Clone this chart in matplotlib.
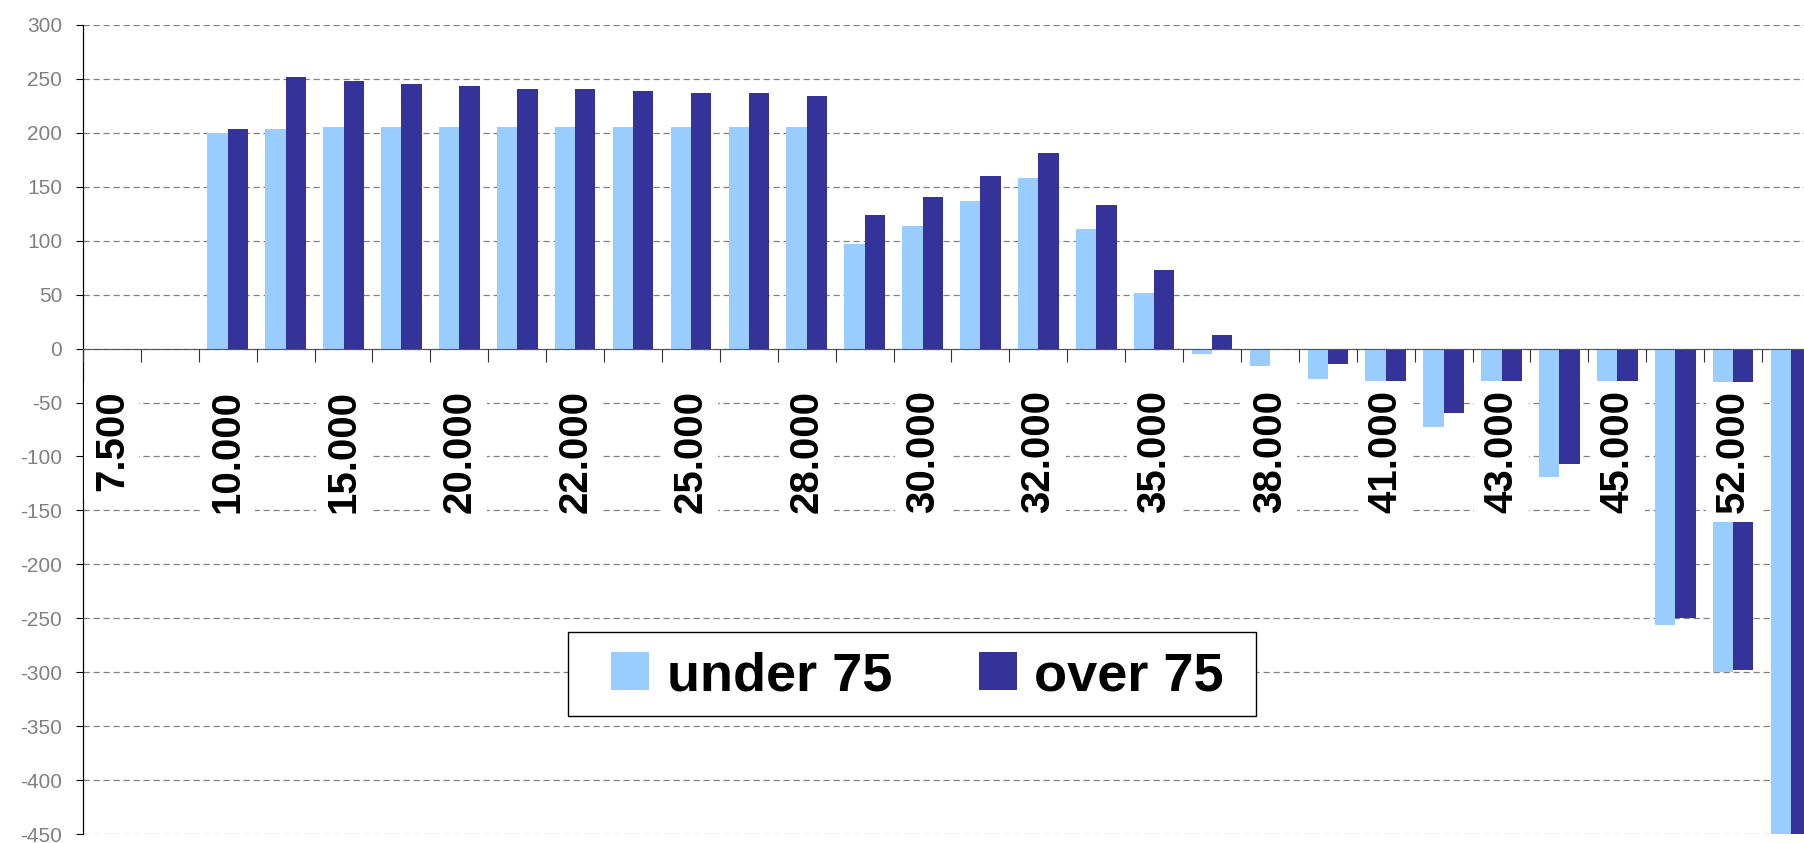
import numpy as np
import matplotlib
matplotlib.use("Agg")
from matplotlib import pyplot as plt
from matplotlib.patches import Rectangle

plt.rcParams['font.family'] = ['Liberation Sans', 'DejaVu Sans']

# category labels (Excel only shows every second one)
labels = ['7.500', '', '10.000', '', '15.000', '', '20.000', '', '22.000', '',
          '25.000', '', '28.000', '', '30.000', '', '32.000', '', '35.000', '',
          '38.000', '', '41.000', '', '43.000', '', '45.000', '', '52.000', '']

under75 = [0, 0, 200, 204, 205, 205, 205, 205, 205, 205,
           205, 205, 205, 97, 114, 137, 158, 111, 52, -5,
           -16, -28, -30, -73, -30, -119, -30, -256, -300, -480]
over75 = [0, 0, 204, 252, 248, 245, 243, 241, 241, 239,
          237, 237, 234, 124, 141, 160, 181, 133, 73, 13,
          0, -14, -30, -60, -30, -107, -30, -250, -298, -480]

yticks = list(range(-450, 301, 50))

light = '#99CCFF'
dark = '#333399'

fig = plt.figure(figsize=(18.04, 8.43), dpi=100)
# plot area runs a little past the right edge, like the original
ax = fig.add_axes([83 / 1804, 9 / 843, 1737 / 1804, 809 / 843])

x = np.arange(len(labels))
w = 0.35
ax.bar(x - w / 2, under75, w, color=light, label='under 75', zorder=2)
ax.bar(x + w / 2, over75, w, color=dark, label='over 75', zorder=2)

ax.set_xlim(-0.5, len(labels) - 0.5)
ax.set_ylim(-450, 300)

# grid
ax.set_yticks(yticks)
ax.set_yticklabels([str(v) for v in yticks])
ax.yaxis.grid(True, color='#808080', linestyle=(0, (5, 3)), linewidth=0.9)
ax.set_axisbelow(True)

# spines
ax.spines['top'].set_visible(False)
ax.spines['right'].set_visible(False)
ax.spines['bottom'].set_position(('data', 0))
ax.spines['bottom'].set_color('#555555')
ax.spines['bottom'].set_zorder(3)
ax.spines['left'].set_color('black')
ax.spines['left'].set_linewidth(0.9)

ax.tick_params(axis='y', labelsize=15, labelcolor='#808080', length=5,
               direction='out', pad=10)

# tick marks between categories, labels at the centres
ax.set_xticks(np.arange(-0.5, len(labels), 1))
ax.set_xticklabels([])
ax.set_xticks(x, minor=True)
ax.set_xticklabels(labels, minor=True, rotation=90, fontsize=29,
                   fontweight='bold')
ax.tick_params(axis='x', which='major', length=9.5, direction='out',
               color='#333333')
ax.tick_params(axis='x', which='minor', length=0, pad=30)
for lbl in ax.get_xticklabels(minor=True):
    lbl.set_bbox(dict(facecolor='white', edgecolor='none', pad=6))
ax.xaxis.set_zorder(5)

# legend (Excel style box, wider than the entries)
ax.add_patch(Rectangle((0.2792, 0.1459), 0.396, 0.1038, transform=ax.transAxes,
                       facecolor='white', edgecolor='black', linewidth=1,
                       zorder=6))
leg = ax.legend(loc='center', bbox_to_anchor=(0.4804, 0.195), ncol=2,
                prop={'weight': 'bold', 'size': 39},
                frameon=False, handlelength=0.7,
                handleheight=0.7, handletextpad=0.32, columnspacing=1.6,
                borderpad=0.2, borderaxespad=0)
leg.set_zorder(7)

fig.savefig('out.png', dpi=100)
